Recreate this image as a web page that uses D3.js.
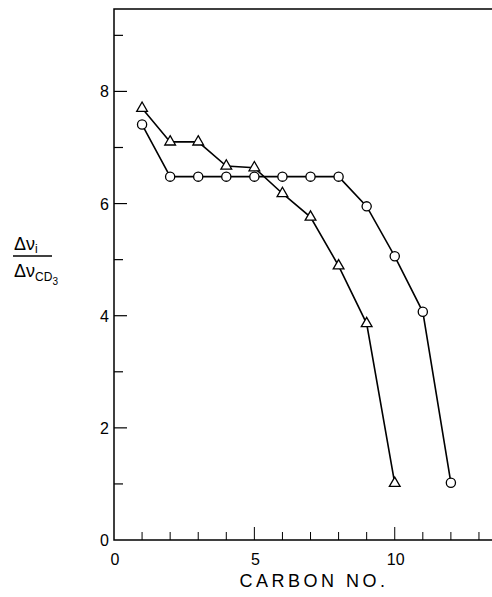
<!DOCTYPE html>
<html>
<head>
<meta charset="utf-8">
<script src="https://cdn.jsdelivr.net/npm/d3@7"></script>
<style>
  body { margin: 0; background: #fff; }
  svg { display: block; font-family: "Liberation Sans", Arial, sans-serif; }
</style>
</head>
<body>
<div id="chart"></div>
<script>
// DATA ///////////////////////////////////////////////////////////////////
const triCarbon = [1, 2, 3, 4, 5, 6, 7, 8, 9, 10];
const triValues = [7.70, 7.10, 7.10, 6.67, 6.64, 6.18, 5.76, 4.89, 3.86, 1.01];
const circCarbon = [1, 2, 3, 4, 5, 6, 7, 8, 9, 10, 11, 12];
const circValues = [7.41, 6.48, 6.48, 6.48, 6.48, 6.48, 6.48, 6.48, 5.95, 5.06, 4.07, 1.02];
const xTickLabels = [0, 5, 10];
const yTickLabels = [0, 2, 4, 6, 8];

(function() {
    const width = 492, height = 597;
    const svg = d3.select("#chart").append("svg")
        .attr("width", width)
        .attr("height", height);

    // scales: origin at (114, 540)
    const x = d3.scaleLinear().domain([0, 13.5]).range([114, 493]);
    const y = d3.scaleLinear().domain([0, 9.47]).range([540, 9]);

    // frame: left axis, bottom axis, top line
    svg.append("path")
        .attr("d", `M${x(13.5)},${y(9.47)}H${x(0)}V${y(0)}H${x(13.5)}`)
        .attr("fill", "none")
        .attr("stroke", "#000")
        .attr("stroke-width", 1.5);

    // x ticks (inside, pointing up), every unit
    svg.selectAll(".xt")
        .data(d3.range(1, 14))
        .enter().append("line")
        .attr("class", "xt")
        .attr("x1", d => x(d)).attr("x2", d => x(d))
        .attr("y1", y(0))
        .attr("y2", d => y(0) - (d % 5 === 0 ? 13 : 8))
        .attr("stroke", "#000").attr("stroke-width", 1);

    // y ticks (inside, pointing right)
    svg.selectAll(".yt")
        .data(d3.range(1, 10))
        .enter().append("line")
        .attr("class", "yt")
        .attr("y1", d => y(d)).attr("y2", d => y(d))
        .attr("x1", x(0))
        .attr("x2", d => x(0) + (d % 2 === 0 ? 13 : 9))
        .attr("stroke", "#000").attr("stroke-width", 1.2);

    // tick labels
    svg.selectAll(".xl")
        .data(xTickLabels)
        .enter().append("text")
        .attr("x", d => x(d) + 1)
        .attr("y", y(0) + 25)
        .attr("text-anchor", "middle")
        .attr("font-size", 16)
        .text(d => d);

    svg.selectAll(".yl")
        .data(yTickLabels)
        .enter().append("text")
        .attr("x", x(0) - 5)
        .attr("y", d => y(d) + 6)
        .attr("text-anchor", "end")
        .attr("font-size", 16)
        .text(d => d);

    // axis titles
    svg.append("text")
        .attr("x", 314)
        .attr("y", 587)
        .attr("text-anchor", "middle")
        .attr("font-size", 18)
        .attr("letter-spacing", 3.5)
        .text("CARBON  NO.");

    const yt = svg.append("g").attr("font-size", 18);
    yt.append("text").attr("x", 14).attr("y", 250).text("Δν")
        .append("tspan").attr("font-size", 12).attr("dy", 3).text("i");
    yt.append("line")
        .attr("x1", 13).attr("x2", 52)
        .attr("y1", 256).attr("y2", 256)
        .attr("stroke", "#000").attr("stroke-width", 1.3);
    const den = yt.append("text").attr("x", 14).attr("y", 277).text("Δν");
    den.append("tspan").attr("font-size", 12).attr("dy", 4).text("CD");
    den.append("tspan").attr("font-size", 10).attr("dy", 4).text("3");

    // series lines
    const triData = triCarbon.map((c, i) => ({c: c, v: triValues[i]}));
    const circData = circCarbon.map((c, i) => ({c: c, v: circValues[i]}));
    const line = d3.line().x(d => x(d.c)).y(d => y(d.v));

    [triData, circData].forEach(data => {
        svg.append("path")
            .datum(data)
            .attr("d", line)
            .attr("fill", "none")
            .attr("stroke", "#000")
            .attr("stroke-width", 1.6);
    });

    // markers
    svg.selectAll(".circ")
        .data(circData)
        .enter().append("circle")
        .attr("class", "circ")
        .attr("cx", d => x(d.c))
        .attr("cy", d => y(d.v))
        .attr("r", 4.6)
        .attr("fill", "#fff")
        .attr("stroke", "#000")
        .attr("stroke-width", 1.3);

    const tri = d3.symbol().type(d3.symbolTriangle).size(50);
    svg.selectAll(".tri")
        .data(triData)
        .enter().append("path")
        .attr("class", "tri")
        .attr("transform", d => `translate(${x(d.c)},${y(d.v)})`)
        .attr("d", tri)
        .attr("fill", "#fff")
        .attr("stroke", "#000")
        .attr("stroke-width", 1.3);
})();
</script>
</body>
</html>
